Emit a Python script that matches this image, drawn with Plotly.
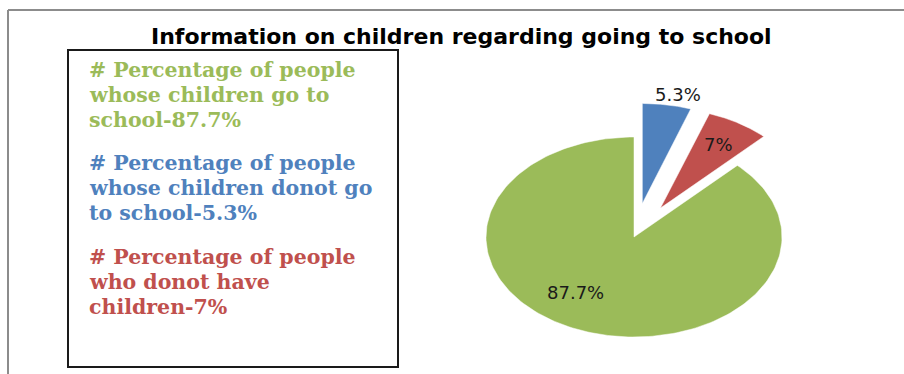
import numpy as np
import plotly.graph_objects as go

# Survey shares (percent)
categories = ["Children go to school", "Children do not go to school", "No children"]
values = [87.7, 5.3, 7.0]
label_texts = ["87.7%", "5.3%", "7%"]
colors = ["#9BBB59", "#4F81BD", "#C0504D"]

# Legend-box statements
note_lines = [
    ["# Percentage of people", "whose children go to", "school-87.7%"],
    ["# Percentage of people", "whose children donot go", "to school-5.3%"],
    ["# Percentage of people", "who donot have", "children-7%"],
]
note_colors = ["#9BBB59", "#4F81BD", "#C0504D"]

# Slice drawing order (clockwise from 12 o'clock) and styling
order = [1, 2, 0]
explode = {0: 0.0, 1: 0.34, 2: 0.34}
label_r = {0: 0.684, 1: 1.12, 2: 0.75}
label_dtheta = {0: 13.0, 1: 3.0, 2: 0.0}

W, H = 904, 374
cx_px, cy_px = 634, 237        # pie centre in page pixels
rx_px, ry_px = 148, 100        # ellipse radii in pixels


def px(x):
    return x / W


def py(y):
    return 1 - y / H


fig = go.Figure()

total = sum(values)
start = 0.0
label_annots = []
for i in order:
    sweep = values[i] / total * 360.0
    a0, a1 = start, start + sweep
    mid = np.radians((a0 + a1) / 2)
    ox = explode[i] * np.sin(mid)
    oy = explode[i] * np.cos(mid)
    t = np.radians(np.linspace(a0, a1, 200))
    xs = np.concatenate([[ox], ox + np.sin(t), [ox]])
    ys = np.concatenate([[oy], oy + np.cos(t), [oy]])
    fig.add_trace(go.Scatter(
        x=xs, y=ys, mode="lines", fill="toself",
        fillcolor=colors[i], line=dict(color="white", width=0.5),
        hoverinfo="skip", showlegend=False, name=categories[i],
    ))
    lt = mid + np.radians(label_dtheta[i])
    label_annots.append(dict(
        x=ox + label_r[i] * np.sin(lt), y=oy + label_r[i] * np.cos(lt),
        xref="x", yref="y", text=label_texts[i], showarrow=False,
        font=dict(family="DejaVu Sans", size=18, color="#1a1a1a"),
        xanchor="center", yanchor="middle",
    ))
    start = a1

annotations = list(label_annots)

# Title
annotations.append(dict(
    x=px(462), y=py(37), xref="paper", yref="paper",
    text="<b>Information on children regarding going to school</b>",
    showarrow=False, xanchor="center", yanchor="middle",
    font=dict(family="DejaVu Sans", size=22, color="#000000"),
))

# Statements inside the box
block_tops = [70, 163, 257]
line_gap = 25
for block, top, col in zip(note_lines, block_tops, note_colors):
    for k, line in enumerate(block):
        annotations.append(dict(
            x=px(87), y=py(top + k * line_gap), xref="paper", yref="paper",
            text="<b>" + line + "</b>", showarrow=False,
            xanchor="left", yanchor="middle",
            font=dict(family="DejaVu Serif", size=20.5, color=col),
        ))

shapes = [
    # outer chart frame: top and left edges
    dict(type="line", xref="paper", yref="paper",
         x0=px(8), y0=py(10), x1=1.0, y1=py(10),
         line=dict(color="#8c8c8c", width=2)),
    dict(type="line", xref="paper", yref="paper",
         x0=px(8), y0=py(10), x1=px(8), y1=0.0,
         line=dict(color="#8c8c8c", width=2)),
    # statement box
    dict(type="rect", xref="paper", yref="paper",
         x0=px(68), y0=py(367), x1=px(398), y1=py(50),
         line=dict(color="#1a1a1a", width=2), fillcolor="rgba(0,0,0,0)"),
]

fig.update_layout(
    width=W, height=H,
    margin=dict(l=0, r=0, t=0, b=0),
    paper_bgcolor="white", plot_bgcolor="white",
    xaxis=dict(range=[-cx_px / rx_px, (W - cx_px) / rx_px], visible=False,
               fixedrange=True),
    yaxis=dict(range=[-(H - cy_px) / ry_px, cy_px / ry_px], visible=False,
               fixedrange=True),
    annotations=annotations,
    shapes=shapes,
    showlegend=False,
)

fig.write_html("out.html", config={"displayModeBar": False})
